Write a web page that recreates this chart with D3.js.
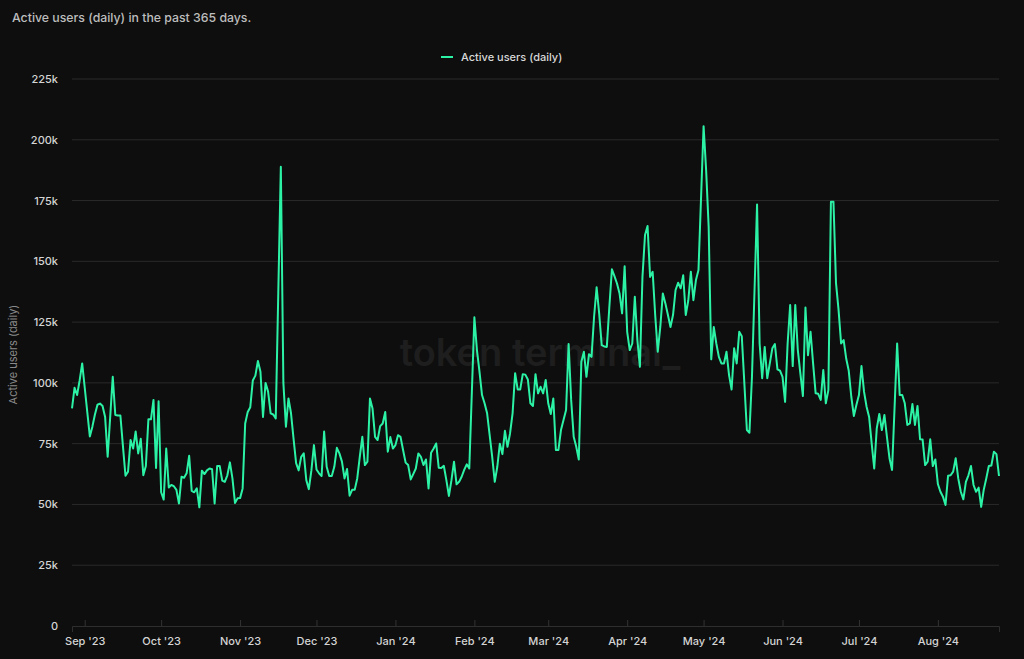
<!DOCTYPE html>
<html>
<head>
<meta charset="utf-8">
<script src="https://cdn.jsdelivr.net/npm/d3@7"></script>
<style>
html,body{margin:0;padding:0;background:#0e0e0e;}
svg{display:block;}
text{font-family:Inter,"Noto Sans",sans-serif;}
</style>
</head>
<body>
<svg id="chart" width="1024" height="659"></svg>
<script>
const title = "Active users (daily) in the past 365 days.";
const seriesName = "Active users (daily)";
const startDate = "2023-08-27";
const yTicks = [0, 25000, 50000, 75000, 100000, 125000, 150000, 175000, 200000, 225000];
const monthTicks = ["2023-09-01","2023-10-01","2023-11-01","2023-12-01","2024-01-01","2024-02-01","2024-03-01","2024-04-01","2024-05-01","2024-06-01","2024-07-01","2024-08-01"];
// daily active users, in thousands
const activeUsers = [
89.5,98,95,101,108,98,88,78,82,87,
91,91.5,90.5,86,69.6,86,102.5,86.8,86.6,86.6,
74,61.8,63.5,76.5,73,80,71,77,62,65.8,
85,85,93,65,92.4,55,52,73,57,58,
57.5,56,50.4,61.4,61,62.8,70,55.6,55,56.6,
48.8,63.9,62.5,64,64.8,64.5,50.4,65.8,65.8,59.8,
59.3,62,67.3,60.7,50.6,52.5,52.6,56.6,83.3,88,
90,101,103,109,104.6,86,100,96.4,87.5,87,
85.4,137,188.9,100,82,93.6,87.5,77,67,64,
69.6,71,60,56.3,64,74.4,64.4,62.8,61.7,80,
65.5,61.7,61.7,65.5,73.3,71,67.6,60.7,64.6,53.6,
56,56,60.7,69.6,77.8,66.2,67.6,93.6,89.5,77.8,
76.5,82.2,83.3,88,71.7,77.7,73,74.4,78.5,77.8,
72.4,67.2,66.2,60.3,62.5,64.8,71,69.6,66.2,68.5,
56.6,71.3,73,75.1,65.1,65,65.9,60,53.5,60,
67.6,58.3,59.3,61.4,64.2,66.5,64.8,96,127,113.5,
104.6,95,91.6,87.5,78.5,69.6,59.3,65.5,75,70.7,
80.3,73.7,79.2,87.5,104,97.3,97.3,103.6,103.4,101.4,
91.6,90.5,103.6,95.7,98.4,95.7,101.2,91.6,87.2,93.6,
72.4,72.4,80.6,84.7,88.8,116,93,77.8,73.7,68.5,
108.7,112.8,102.5,111.8,110.7,127.2,139.3,128.6,115.5,115,
114.8,131.3,146.7,143.9,140.9,136.8,128.6,148,121,113.5,
116.2,135.4,117.6,106.6,143.6,160.8,164.5,143.6,145.7,127.9,
112.8,123,136.8,132.7,127.9,123,127.9,138.2,141.2,138.9,
144.3,127.9,134,145.7,134,142.3,146.4,176,205.6,187.5,
164,109.7,123,116.2,110.7,108,108,112.8,103.2,97.3,
114.2,108,121,119.2,100,80.6,79.5,102.5,138,173.4,
116.2,101.9,114.8,101.9,108,114.2,116,105.6,105,102.5,
92.2,116.2,132,106.9,132,113.5,103.9,94.6,131,111.4,
121,108,95.7,95.5,93,105.3,91.6,97,174.5,174.5,
141,130,116.2,117.6,110,105,94.3,86.4,90.9,95,
106.9,96.4,90.2,86,75.1,64.8,81.3,87.2,80.6,86.8,
77.8,69,64.2,90,116.2,95,95,91.6,82.7,83.3,
91.3,82.7,90.5,76.8,76.7,66.2,67.6,76.8,65.8,68.5,
58.4,55.2,53.2,49.8,61.8,62,63.5,69,60.7,55.2,
52.1,59.3,62,65.8,58,55.2,56.9,49,56,60.7,
65.8,66,71.7,70.7,61.7
];

const parse = d3.utcParse("%Y-%m-%d");
const t0 = parse(startDate);
const data = activeUsers.map((v, i) => ({ date: d3.utcDay.offset(t0, i), value: v * 1000 }));

const svg = d3.select("#chart");
const W = 1024, H = 659;
const mLeft = 72, mRight = 999, mTop = 79, mBottom = 626;
svg.append("rect").attr("width", W).attr("height", H).attr("fill", "#0e0e0e");

const x = d3.scaleUtc().domain(d3.extent(data, d => d.date)).range([mLeft, mRight]);
const y = d3.scaleLinear().domain([0, 225000]).range([mBottom, mTop]);

// title
svg.append("text").attr("x", 12).attr("y", 22).attr("fill", "#bdbdbd")
  .attr("font-size", 12.3).attr("font-weight", 500).text(title);

// watermark
svg.append("text").attr("x", 540).attr("y", 366).attr("text-anchor", "middle")
  .attr("fill", "#1e1e1e").attr("font-size", 38).attr("font-weight", 600)
  .text("token terminal_");

// grid
svg.append("g").selectAll("line").data(yTicks.filter(d => d > 0)).join("line")
  .attr("x1", mLeft).attr("x2", mRight).attr("y1", d => y(d)).attr("y2", d => y(d))
  .attr("stroke", "#2a2a2a").attr("stroke-width", 1);

// y axis
const yAxis = svg.append("g").attr("transform", `translate(${mLeft},0)`)
  .call(d3.axisLeft(y).tickValues(yTicks).tickSize(0).tickPadding(14)
    .tickFormat(d => d === 0 ? "0" : (d / 1000) + "k"));
yAxis.select(".domain").remove();
yAxis.selectAll("text").attr("fill", "#d4d4d4").attr("font-size", 11).attr("font-weight", 500).attr("font-family", "Inter, sans-serif");

svg.append("text").attr("transform", `translate(17,${(mTop + mBottom) / 2 + 2}) rotate(-90)`)
  .attr("text-anchor", "middle").attr("fill", "#8a8a8a").attr("font-size", 11)
  .text(seriesName);

// x axis
const xAxis = svg.append("g").attr("transform", `translate(0,${mBottom})`)
  .call(d3.axisBottom(x).tickValues(monthTicks.map(parse)).tickSize(6).tickPadding(6)
    .tickFormat(d3.utcFormat("%b '%y")));
xAxis.select(".domain").attr("stroke", "#2e2e2e");
xAxis.selectAll(".tick line").attr("stroke", "#333").attr("transform", "translate(0,-6)");
xAxis.selectAll("text").attr("fill", "#d4d4d4").attr("font-size", 11).attr("font-weight", 500).attr("font-family", "Inter, sans-serif").attr("dy", "0.35em").attr("y", 15);

// line
const line = d3.line().x(d => x(d.date)).y(d => y(d.value));
svg.append("path").datum(data).attr("d", line).attr("fill", "none")
  .attr("stroke", "#2cf2a6").attr("stroke-width", 2).attr("stroke-linejoin", "round");

// legend
const lg = svg.append("g").attr("transform", "translate(441,57)");
lg.append("line").attr("x1", 0).attr("x2", 12).attr("y1", 0).attr("y2", 0)
  .attr("stroke", "#2cf2a6").attr("stroke-width", 2);
lg.append("text").attr("x", 20).attr("y", 0).attr("dy", "0.35em").attr("fill", "#d8d8d8")
  .attr("font-size", 11).attr("font-weight", 500).text(seriesName);
</script>
</body>
</html>
